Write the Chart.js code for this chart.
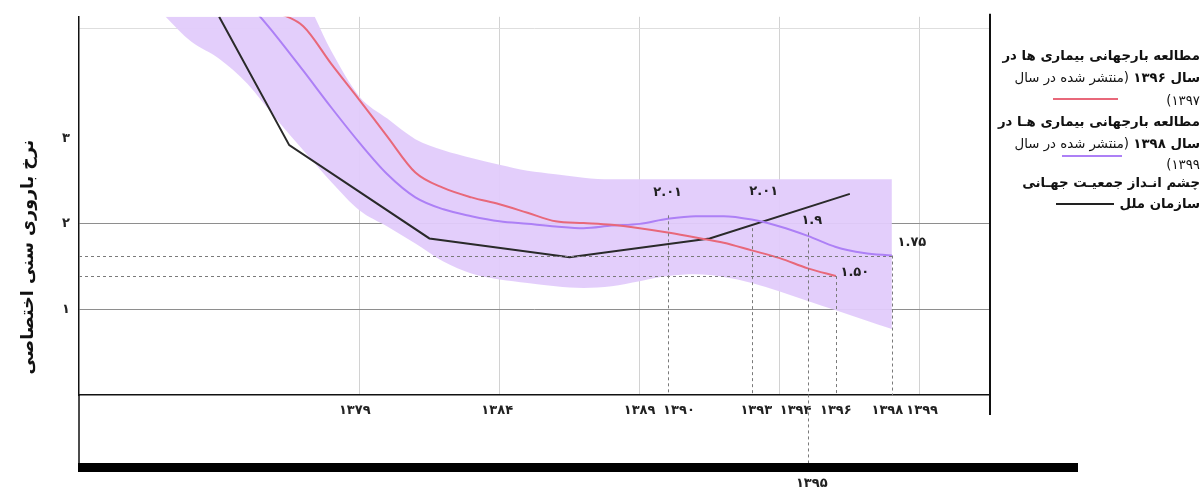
<!DOCTYPE html>
<html lang="fa">
<head>
<meta charset="utf-8">
<script src="https://cdn.jsdelivr.net/npm/chart.js@4.4.1/dist/chart.umd.min.js"></script>
<style>
  html, body { margin: 0; padding: 0; background: #fff; }
  #wrap { position: relative; width: 1204px; height: 490px; overflow: hidden; }
  #c { position: absolute; left: 0; top: 0; }
  .row { position: absolute; right: 4px; direction: rtl; white-space: nowrap; line-height: 1;
         font-family: 'DejaVu Sans', sans-serif; font-size: 13.3px; color: #111; }
  .b { font-weight: bold; }
  .sw { position: absolute; height: 2px; }
</style>
</head>
<body>
<div id="wrap">
  <canvas id="c" width="1204" height="490"></canvas>

  <!-- legend -->
  <div class="row b" style="top:49px">مطالعه بارجهانی  بیماری ها در</div>
  <div class="row" style="top:71px"><span class="b">سال ۱۳۹۶</span> (منتشر شده در سال</div>
  <div class="sw" style="left:1053px; width:65px; top:98px; background:#e8687a"></div>
  <div class="row" style="top:94px">۱۳۹۷)</div>
  <div class="row b" style="top:115px">مطالعه بارجهانی بیماری هـا در</div>
  <div class="row" style="top:137px"><span class="b">سال ۱۳۹۸</span> (منتشر شده در سال</div>
  <div class="sw" style="left:1062px; width:60px; top:155px; background:#ad80f6"></div>
  <div class="row" style="top:158px">۱۳۹۹)</div>
  <div class="row b" style="top:176px">چشم انـداز جمعیـت جهـانی</div>
  <div class="row b" style="top:197px">سازمان ملل</div>
  <div class="sw" style="left:1056px; width:58px; top:203px; background:#222"></div>
</div>

<script>
// GBD 1396 study (red)
const redYears  = [1376, 1377, 1378, 1379, 1380, 1381, 1382, 1383, 1384, 1385, 1386,
                   1387, 1388, 1389, 1390, 1391, 1392, 1393, 1394, 1395, 1396];
const redValues = [4.48, 4.31, 3.87, 3.45, 3.02, 2.60, 2.42, 2.31, 2.23, 2.13, 2.03,
                   2.01, 1.99, 1.95, 1.90, 1.84, 1.78, 1.69, 1.60, 1.48, 1.39];

// GBD 1398 study (purple) and its uncertainty band
const purpleYears  = [1375, 1376, 1377, 1378, 1379, 1380, 1381, 1382, 1383, 1384, 1385, 1386,
                      1387, 1388, 1389, 1390, 1391, 1392, 1393, 1394, 1395, 1396, 1397, 1398];
const purpleValues = [4.60, 4.21, 3.79, 3.36, 2.95, 2.58, 2.31, 2.17, 2.09, 2.03, 2.00, 1.97,
                      1.95, 1.98, 2.00, 2.06, 2.09, 2.09, 2.05, 1.97, 1.86, 1.73, 1.66, 1.63];

const bandYears = [1372, 1373, 1374, 1375, 1376, 1377, 1378, 1379, 1380, 1381, 1382, 1383, 1384, 1385,
                   1386, 1387, 1388, 1389, 1390, 1391, 1392, 1393, 1394, 1395, 1396, 1397, 1398];
const bandLower = [4.45, 4.13, 3.93, 3.64, 3.24, 2.86, 2.49, 2.16, 1.97, 1.77, 1.56, 1.42, 1.35, 1.31,
                   1.27, 1.25, 1.27, 1.33, 1.39, 1.41, 1.38, 1.31, 1.21, 1.10, 0.99, 0.88, 0.77];
const bandUpper = [4.90, 4.90, 4.90, 4.90, 4.90, 4.66, 4.02, 3.49, 3.23, 2.99, 2.86, 2.77, 2.69, 2.62,
                   2.58, 2.54, 2.52, 2.52, 2.52, 2.52, 2.52, 2.52, 2.52, 2.52, 2.52, 2.52, 2.52];

// UN world population prospects (black)
const unYears  = [1374, 1376.5, 1381.5, 1386.5, 1391.5, 1396.5];
const unValues = [4.42, 2.92, 1.83, 1.61, 1.83, 2.35];

// axes
const xTickYears = [1379, 1384, 1389, 1390, 1393, 1394, 1396, 1398, 1399];
const xGridYears = [1379, 1384, 1389, 1394, 1399];
const yTickValues = [1, 2, 3];
const yTopLine = 4.28;
const barYear = 1395;  // label written under the black bar

// dashed guides and their value labels
const guideYears  = [1390, 1393, 1395, 1396, 1398];
const guideValues = [2.10, 1.95, 1.90, 1.39, 1.63];
const guideLabels = ['۲.۰۱', '۲.۰۱', '۱.۹', '۱.۵۰', '۱.۷۵'];

const fa = n => String(n).replace(/\d/g, d => '۰۱۲۳۴۵۶۷۸۹'[d]);
const pts = (xs, ys) => xs.map((x, i) => ({x: x, y: ys[i]}));

// the printed year labels sit a little off their grid lines; nudge them with spaces
const nudge = {1379: -2, 1384: -1, 1390: 5, 1393: 2, 1394: 7, 1398: -2, 1399: 1};
const xLabel = v => {
  const n = nudge[v] || 0;
  const pad = ' '.repeat(Math.abs(n));
  return n > 0 ? pad + fa(v) : fa(v) + pad;
};

Chart.defaults.font.family = "'DejaVu Sans', sans-serif";

const decor = {
  id: 'decor',
  afterDatasetsDraw(chart) {
    const {ctx, chartArea: a} = chart;
    const x = chart.scales.x, y = chart.scales.y;
    const barTop = 463;
    ctx.save();
    ctx.strokeStyle = '#7a7a7a';
    ctx.lineWidth = 1;
    ctx.setLineDash([3, 3]);
    // horizontal guides at the end of red and purple series
    [redValues[redValues.length - 1], purpleValues[purpleValues.length - 1]].forEach((v, i) => {
      const endYear = i === 0 ? redYears[redYears.length - 1] : purpleYears[purpleYears.length - 1];
      const py = Math.round(y.getPixelForValue(v)) + 0.5;
      ctx.beginPath();
      ctx.moveTo(a.left, py);
      ctx.lineTo(x.getPixelForValue(endYear), py);
      ctx.stroke();
    });
    guideYears.forEach((yr, i) => {
      const px = Math.round(x.getPixelForValue(yr)) + 0.5;
      ctx.beginPath();
      ctx.moveTo(px, y.getPixelForValue(guideValues[i]));
      ctx.lineTo(px, yr === barYear ? barTop : a.bottom);
      ctx.stroke();
    });
    ctx.setLineDash([]);

    // value labels
    const off = [[0, -23], [12, -37], [4, -12], [19, -3], [20, -13]];
    ctx.fillStyle = '#222';
    ctx.font = "bold 13px 'DejaVu Sans'";
    ctx.textAlign = 'center';
    ctx.textBaseline = 'middle';
    guideLabels.forEach((t, i) => {
      const px = x.getPixelForValue(guideYears[i]) + off[i][0];
      const py = y.getPixelForValue(guideValues[i]) + off[i][1];
      ctx.fillText(t, px, py);
    });
    ctx.restore();
  },
  afterDraw(chart) {
    const {ctx, chartArea: a} = chart;
    const x = chart.scales.x;
    ctx.save();
    // right frame line
    ctx.strokeStyle = '#111';
    ctx.lineWidth = 2;
    ctx.beginPath();
    ctx.moveTo(a.right, a.top - 3);
    ctx.lineTo(a.right, a.bottom + 20);
    ctx.stroke();
    // left axis running down to the bar
    ctx.lineWidth = 1.5;
    ctx.beginPath();
    ctx.moveTo(a.left, a.bottom);
    ctx.lineTo(a.left, 465);
    ctx.stroke();
    // thick bottom bar
    ctx.fillStyle = '#000';
    ctx.fillRect(a.left - 1, 463, 1000, 9);
    // year under the bar
    ctx.fillStyle = '#222';
    ctx.font = "bold 13px 'DejaVu Sans'";
    ctx.textAlign = 'center';
    ctx.textBaseline = 'middle';
    ctx.fillText(fa(barYear), x.getPixelForValue(barYear) + 4, 484);
    // y axis title
    ctx.translate(28, 257);
    ctx.rotate(-Math.PI / 2);
    ctx.direction = 'rtl';
    ctx.font = "bold 17.5px 'DejaVu Sans'";
    ctx.fillStyle = '#111';
    ctx.fillText('نرخ باروری سنی اختصاصی', 0, 0);
    ctx.restore();
  }
};

new Chart(document.getElementById('c'), {
  type: 'line',
  data: {
    datasets: [
      {
        label: 'مطالعه بارجهانی بیماری ها در سال ۱۳۹۶',
        data: pts(redYears, redValues),
        borderColor: '#e8687a',
        borderWidth: 2,
        pointRadius: 0,
        cubicInterpolationMode: 'monotone',
        fill: false
      },
      {
        label: 'مطالعه بارجهانی بیماری ها در سال ۱۳۹۸',
        data: pts(purpleYears, purpleValues),
        borderColor: '#ad80f6',
        borderWidth: 2,
        pointRadius: 0,
        cubicInterpolationMode: 'monotone',
        fill: false
      },
      {
        label: 'چشم انداز جمعیت جهانی سازمان ملل',
        data: pts(unYears, unValues),
        borderColor: '#2a2a2a',
        borderWidth: 2,
        pointRadius: 0,
        tension: 0,
        fill: false
      },
      {
        label: 'band-low',
        data: pts(bandYears, bandLower),
        borderWidth: 0,
        borderColor: 'rgba(0,0,0,0)',
        pointRadius: 0,
        cubicInterpolationMode: 'monotone',
        fill: false
      },
      {
        label: 'band-high',
        data: pts(bandYears, bandUpper),
        borderWidth: 0,
        borderColor: 'rgba(0,0,0,0)',
        backgroundColor: 'rgba(226, 203, 251, 0.95)',
        pointRadius: 0,
        cubicInterpolationMode: 'monotone',
        fill: '-1'
      }
    ]
  },
  options: {
    responsive: false,
    animation: false,
    layout: { padding: { left: 0, right: 214, top: 13, bottom: 0 } },
    plugins: {
      legend: { display: false },
      tooltip: { enabled: false }
    },
    scales: {
      x: {
        type: 'linear',
        min: 1369,
        max: 1401.5,
        afterBuildTicks: s => { s.ticks = xTickYears.map(v => ({value: v})); },
        afterFit: s => { s.height = 95; },
        ticks: {
          autoSkip: false,
          maxRotation: 0,
          padding: 8,
          color: '#222',
          font: { size: 13, weight: 'bold' },
          callback: v => xLabel(v)
        },
        grid: {
          drawTicks: false,
          color: c => (c.tick && xGridYears.includes(c.tick.value)) ? '#d2d2d2' : 'rgba(0,0,0,0)'
        },
        border: { color: '#111', width: 1.5 }
      },
      y: {
        min: 0,
        max: 4.42,
        afterBuildTicks: s => { s.ticks = yTickValues.concat([yTopLine]).map(v => ({value: v})); },
        afterFit: s => { s.width = 79; },
        ticks: {
          padding: 9,
          color: '#222',
          font: { size: 13, weight: 'bold' },
          callback: v => v === yTopLine ? '' : fa(v)
        },
        grid: {
          drawTicks: false,
          color: c => {
            if (!c.tick) return 'rgba(0,0,0,0)';
            if (c.tick.value === yTopLine) return '#dedede';
            if (c.tick.value === 3) return 'rgba(0,0,0,0)';
            return '#8e8e8e';
          }
        },
        border: { color: '#111', width: 1.5 }
      }
    }
  },
  plugins: [decor]
});
</script>
</body>
</html>
